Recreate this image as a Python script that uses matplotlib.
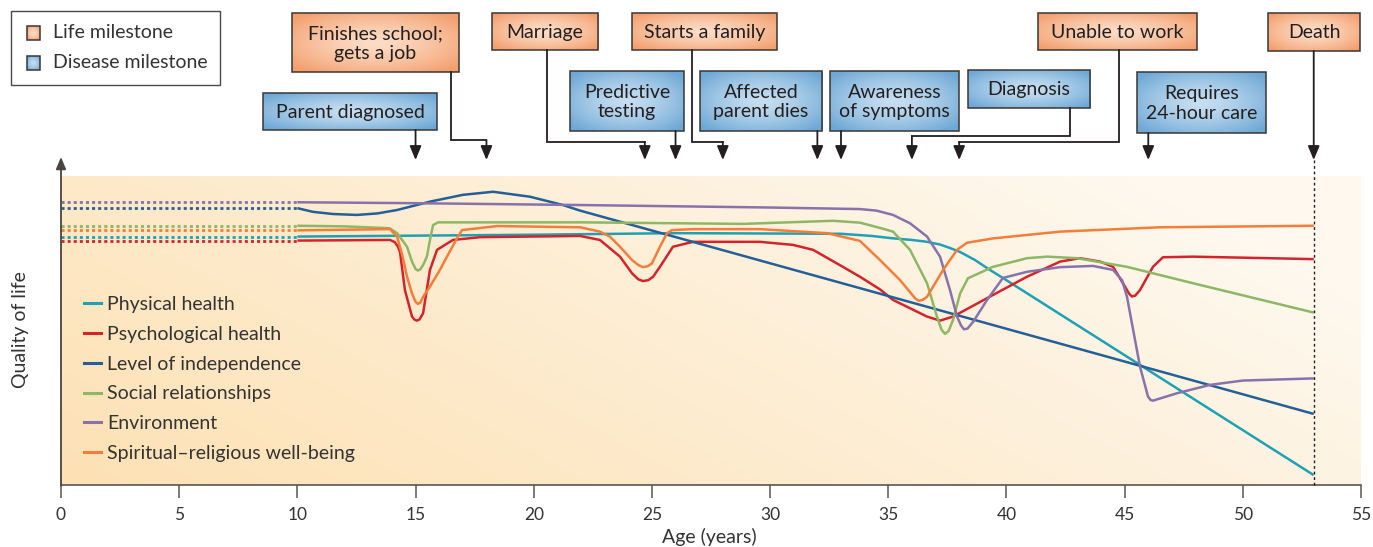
import matplotlib.pyplot as plt
import numpy as np
from matplotlib.patches import Rectangle
from matplotlib.lines import Line2D
from matplotlib.colors import to_rgb

plt.rcParams['font.family'] = ['Lato', 'DejaVu Sans']

# ---- quality-of-life curves (age in years, quality in arbitrary units, 0-100) ----
physical_age = [10, 20, 26, 33, 34.3, 35.1, 36.0, 36.64, 37.2, 37.61, 38.04, 38.67, 39.3, 39.85, 53]
physical_q = [80.4, 81.0, 81.5, 81.3, 80.6, 79.9, 79.3, 78.7, 77.8, 76.7, 75.4, 72.8, 69.6, 67.0, 3.2]

psych_age = [10, 13.92, 14.12, 14.25, 14.34, 14.55, 14.85, 14.96, 15.06, 15.17, 15.32, 15.61,
             15.91, 16.58, 17.73, 21.96, 22.8, 23.65, 24.16, 24.42, 24.62, 24.85, 25.05, 25.34,
             25.89, 26.74, 29.57, 30.97, 31.82, 33.08, 33.8, 34.65, 35.2, 36.64, 37.19, 37.74,
             39.43, 40.87, 42.27, 43.11, 43.96, 44.51, 44.93, 45.2, 45.31, 45.45, 45.65, 46.2,
             46.62, 47.89, 53]
psych_q = [79.1, 79.3, 78.6, 77.2, 75.5, 63.1, 54.5, 53.5, 53.2, 53.6, 55.6, 69.6,
           76.1, 79.3, 80.2, 80.6, 79.3, 73.9, 68.5, 66.6, 66.0, 66.3, 67.4, 70.6,
           77.1, 78.7, 78.7, 77.7, 76.1, 70.6, 67.4, 63.3, 59.9, 54.5, 53.2, 54.5,
           61.5, 67.4, 72.3, 73.4, 72.3, 70.6, 65.3, 61.8, 61.0, 61.3, 63.1, 70.6,
           73.7, 73.9, 73.1]

indep_age = [10, 10.66, 11.5, 12.52, 13.4, 14.22, 15.61, 17.0, 18.28, 19.84, 21.24, 21.96, 53]
indep_q = [89.6, 88.4, 87.7, 87.4, 87.9, 89.0, 91.7, 93.9, 94.9, 93.3, 90.6, 88.8, 23.0]

social_age = [10, 12, 13.9, 14.22, 14.64, 14.85, 15.0, 15.1, 15.2, 15.32, 15.48, 15.61, 15.74,
              15.95, 22, 28.85, 32.66, 33.8, 34.65, 35.2, 35.92, 36.64, 37.06, 37.25, 37.4,
              37.55, 37.74, 38.04, 38.37, 39.43, 40.87, 41.72, 42.99, 45.1, 47.89, 53]
social_q = [83.9, 83.7, 83.1, 81.5, 77.1, 72.3, 69.9, 69.4, 69.8, 71.2, 73.9, 79.3, 84.1,
            85.0, 85.0, 84.5, 85.5, 84.9, 83.2, 82.0, 76.1, 65.3, 54.5, 50.3, 48.9,
            49.8, 53.4, 62.0, 66.9, 70.6, 73.4, 73.9, 73.4, 70.6, 65.3, 55.8]

env_age = [10, 15, 22, 30, 33.8, 34.5, 35.2, 35.92, 36.64, 37.19, 37.61, 37.91, 38.08, 38.2,
           38.35, 38.59, 39.18, 39.85, 40.87, 42.27, 43.66, 44.51, 44.89, 45.1, 45.65, 45.99,
           46.1, 46.2, 47.22, 48.61, 50.0, 53]
env_q = [91.5, 91.2, 90.6, 89.8, 89.3, 88.8, 87.4, 84.7, 80.4, 73.9, 63.1, 54.5, 51.6, 50.4,
         50.6, 52.8, 59.9, 67.0, 69.0, 70.5, 70.9, 69.6, 66.3, 60.9, 38.3, 28.6,
         27.5, 27.3, 29.7, 32.4, 33.8, 34.5]

spirit_age = [10, 13.92, 14.22, 14.45, 14.64, 14.85, 15.0, 15.1, 15.2, 15.32, 15.61, 16.03,
              16.33, 16.75, 16.97, 18.45, 21.96, 22.8, 23.22, 23.65, 24.16, 24.42, 24.62,
              24.82, 25.0, 25.34, 25.64, 25.85, 26.74, 29.57, 32.41, 33.8, 34.65, 35.5, 36.15,
              36.3, 36.45, 36.64, 37.32, 37.91, 38.33, 39.43, 42.27, 46.5, 53]
spirit_q = [82.4, 82.8, 80.4, 74.0, 67.4, 62.0, 59.3, 58.6, 59.0, 60.9, 64.2, 69.6,
            73.9, 79.8, 82.5, 83.8, 83.4, 82.0, 80.4, 77.1, 72.8, 71.2, 70.5,
            70.8, 71.7, 77.1, 81.5, 82.5, 82.8, 82.8, 81.5, 79.0, 72.8, 66.3, 60.3,
            59.6, 59.9, 60.9, 69.6, 76.1, 78.4, 79.8, 82.0, 83.4, 83.9]

series_names = ['Physical health', 'Psychological health', 'Level of independence',
                'Social relationships', 'Environment', 'Spiritual\u2013religious well-being']
series_ages = [physical_age, psych_age, indep_age, social_age, env_age, spirit_age]
series_values = [physical_q, psych_q, indep_q, social_q, env_q, spirit_q]
series_colors = ['#1fa0b4', '#d4242b', '#245f98', '#8db765', '#8872ab', '#f47d3a']

# ---- milestones ----
milestone_labels = ['Parent diagnosed', 'Finishes school;\ngets a job', 'Marriage',
                    'Predictive\ntesting', 'Starts a family', 'Affected\nparent dies',
                    'Awareness\nof symptoms', 'Diagnosis', 'Unable to work',
                    'Requires\n24-hour care', 'Death']
milestone_kinds = ['disease', 'life', 'life', 'disease', 'life', 'disease',
                   'disease', 'disease', 'life', 'disease', 'life']
milestone_ages = [15, 18, 24.7, 26, 28, 32, 33, 36, 38, 46, 53]
death_age = 53

# box layout in figure pixels: left, top, right, bottom, stem x (None = straight), elbow y
box_layout = [
    (263, 93, 437, 130, None, None),
    (292, 13, 459, 72, 451, 140),
    (492, 13, 598, 50, 547, 142),
    (570, 71, 684, 131, None, None),
    (632, 13, 777, 50, 692, 142),
    (700, 71, 822, 131, None, None),
    (830, 71, 959, 131, None, None),
    (968, 70, 1090, 108, 1070, 136),
    (1038, 13, 1197, 50, 1119, 142),
    (1137, 72, 1266, 133, None, None),
    (1268, 13, 1360, 51, None, None),
]

W, H = 1373, 547
X0, X1 = 61, 1361          # pixel x of age 0 and 55
Y_BOT, Y_TOP = 485, 176    # pixel y of quality 0 and 100
S = (X1 - X0) / 55.0
FS = 14


def px2x(p):
    return (p - X0) / S


fig = plt.figure(figsize=(W / 100, H / 100), dpi=100)
ax = fig.add_axes([X0 / W, (H - Y_BOT) / H, (X1 - X0) / W, (Y_BOT - Y_TOP) / H])
ax.set_xlim(0, 55)
ax.set_ylim(0, 100)

# background gradient
gx = np.linspace(0, 1, 300)
gy = np.linspace(0, 1, 120)
GX, GY = np.meshgrid(gx, gy)
t = np.clip(0.8 * GX + 0.35 * GY, 0, 1)[..., None]
c0 = np.array(to_rgb('#fde1b4'))
c1 = np.array(to_rgb('#fef8ee'))
ax.imshow(c0 * (1 - t) + c1 * t, extent=(0, 55, 0, 100), origin='lower',
          aspect='auto', zorder=0)

for ages, vals, col in zip(series_ages, series_values, series_colors):
    ax.plot([0, ages[0]], [vals[0], vals[0]], color=col, lw=2.0,
            linestyle=(0, (1.1, 1.1)), zorder=2)
    ax.plot(ages, vals, color=col, lw=1.8, zorder=3, solid_capstyle='butt',
            solid_joinstyle='round')

for s in ['top', 'right', 'left']:
    ax.spines[s].set_visible(False)
ax.spines['bottom'].set_color('#5a5550')
ax.spines['bottom'].set_linewidth(1.2)
ax.set_xticks(range(0, 56, 5))
ax.set_yticks([])
ax.tick_params(axis='x', direction='out', length=9.5, width=1.1, color='#5a5550',
               labelsize=12.5, labelcolor='#333333', pad=6)

handles = [Line2D([], [], color=c, lw=2.2) for c in series_colors]
ax.legend(handles, series_names, loc='upper left', bbox_to_anchor=(0.0175, 0.612),
          frameon=False, fontsize=FS, handlelength=0.9, handletextpad=0.3,
          labelspacing=0.66, borderpad=0, borderaxespad=0, labelcolor='#333333')

# overlay in figure pixels (x in ages)
ov = fig.add_axes([0, 0, 1, 1], zorder=5)
ov.patch.set_visible(False)
ov.axis('off')

ink = '#231f20'
arrow_props = dict(arrowstyle='-|>,head_length=0.6,head_width=0.25', mutation_scale=14,
                   lw=1.3, color=ink, shrinkA=0, shrinkB=0)
ARROW_TIP = 160

fills = {'life': ('#fddcc6', '#f39f6e'), 'disease': ('#c6def1', '#6ea8d5')}


def gradient_box(l, t_, r, b, kind):
    cin, cout = fills[kind]
    u = np.linspace(-1, 1, 80)
    v = np.linspace(-1, 1, 40)
    U, V = np.meshgrid(u, v)
    k = np.clip(np.sqrt(U ** 2 + V ** 2) / 1.3, 0, 1)[..., None] ** 1.4
    img = np.array(to_rgb(cin)) * (1 - k) + np.array(to_rgb(cout)) * k
    ov.imshow(img, extent=(px2x(l), px2x(r), b, t_), origin='upper', aspect='auto', zorder=6)
    ov.add_patch(Rectangle((px2x(l), t_), px2x(r) - px2x(l), b - t_, fill=False,
                           edgecolor='#3a3633', lw=1.1, zorder=7))


for lab, kind, age, (l, t_, r, b, stem, elbow) in zip(milestone_labels, milestone_kinds,
                                                        milestone_ages, box_layout):
    gradient_box(l, t_, r, b, kind)
    ov.text(px2x((l + r) / 2), (t_ + b) / 2 + 1, lab, ha='center', va='center',
            fontsize=FS, color=ink, linespacing=1.2, zorder=8)
    if stem is None:
        ov.annotate('', xy=(age, ARROW_TIP), xytext=(age, b), arrowprops=arrow_props, zorder=8)
    else:
        ov.plot([px2x(stem), px2x(stem), age], [b, elbow, elbow], color=ink, lw=1.3,
                solid_joinstyle='miter', zorder=8)
        ov.annotate('', xy=(age, ARROW_TIP), xytext=(age, elbow), arrowprops=arrow_props, zorder=8)

# death line
ov.plot([death_age, death_age], [ARROW_TIP, Y_BOT], color=ink, lw=1.0,
        linestyle=(0, (2, 2)), zorder=8)

# y axis arrow
ov.annotate('', xy=(0, 157), xytext=(0, Y_BOT + 0.5),
            arrowprops=dict(arrowstyle='-|>,head_length=0.6,head_width=0.25',
                            mutation_scale=12, lw=1.3, color='#4a443f',
                            shrinkA=0, shrinkB=0), zorder=8)

# axis titles
ov.text(px2x(709), 537, 'Age (years)', ha='center', va='center', fontsize=FS, color='#333333')
ov.text(px2x(21), 330, 'Quality of life', ha='center', va='center', rotation=90,
        fontsize=FS, color='#333333')

# key box
ov.add_patch(Rectangle((px2x(11), 11), px2x(220) - px2x(11), 74, fill=False,
                       edgecolor='#4a4a4a', lw=1.0, zorder=7))
gradient_box(27, 26, 40, 40, 'life')
gradient_box(27, 56, 40, 70, 'disease')
ov.text(px2x(53), 33, 'Life milestone', ha='left', va='center', fontsize=FS, color='#333333')
ov.text(px2x(53), 63, 'Disease milestone', ha='left', va='center', fontsize=FS, color='#333333')

ov.set_xlim(px2x(0), px2x(W))
ov.set_ylim(H, 0)

fig.savefig('out.png', dpi=100)
